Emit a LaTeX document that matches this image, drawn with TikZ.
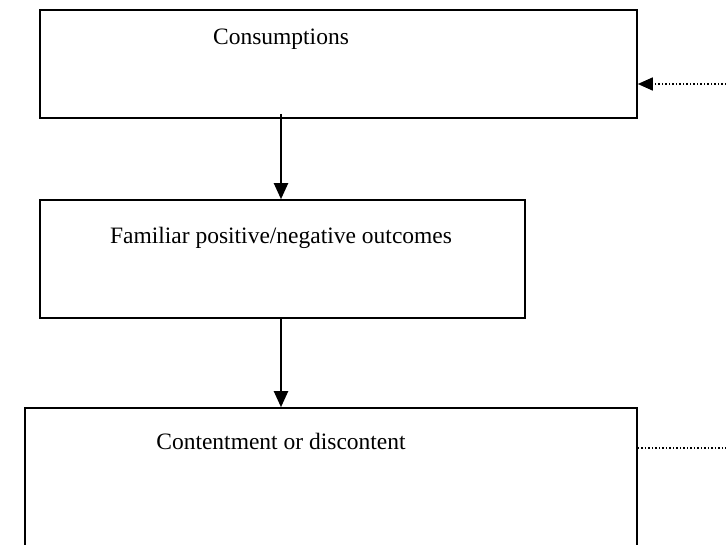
\documentclass[tikz,border=0pt]{standalone}
\usepackage{fontspec}
\setmainfont{Liberation Serif}
\usetikzlibrary{arrows.meta,calc,positioning}

\begin{document}
\begin{tikzpicture}[x=1pt,y=-1pt,
    box/.style={draw,line width=1.6pt,inner sep=0pt},
    lbl/.style={inner sep=0pt,font=\fontsize{23.5}{27}\selectfont},
    flow/.style={line width=2pt,-{Triangle[width=14pt,length=16pt]}},
    dotline/.style={line width=1.5pt,dash pattern=on 1.5pt off 2pt}]
  \useasboundingbox (0,0) rectangle (726,544);
  \clip (0,0) rectangle (726,544);
  % the three boxes
  \node[box,minimum width=597pt,minimum height=108pt] (cons) at (338.5,64) {};
  \node[box,minimum width=485pt,minimum height=118pt] (outc) at (282.5,259) {};
  \node[box,minimum width=612pt,minimum height=150pt] (cont) at (331,483) {};
  \node[lbl] (consT) at (281,39) {Consumptions};
  \node[lbl] (outcT) at (281,238) {Familiar positive/negative outcomes};
  \node[lbl] (contT) at (281,441) {Contentment or discontent};
  % arrows down
  \draw[flow] ($(consT |- cons.south)+(0,-5)$) -- (consT |- outc.north);
  \draw[flow] (outcT |- outc.south) -- (outcT |- cont.north);
  % dotted links at the right
  \coordinate (feedIn) at (726,84);
  \coordinate (feedOut) at (726,448);
  \draw[dotline,-{Triangle[width=13pt,length=15pt]}] (feedIn) -- (cons.east |- feedIn);
  \draw[dotline] (cont.east |- feedOut) -- (feedOut);
\end{tikzpicture}
\end{document}
